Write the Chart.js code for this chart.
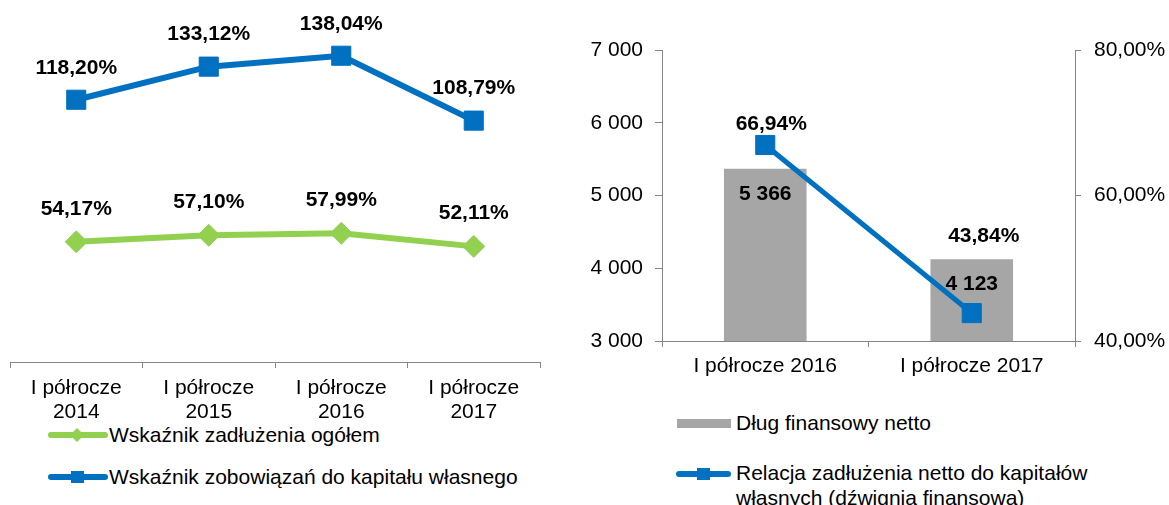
<!DOCTYPE html>
<html>
<head>
<meta charset="utf-8">
<script src="https://cdn.jsdelivr.net/npm/chart.js@4.4.0/dist/chart.umd.min.js"></script>
<style>
  html, body { margin:0; padding:0; background:#fff; width:1169px; height:505px; overflow:hidden;
    font-family:"Liberation Sans", Arial, sans-serif; }
  #w1 { position:absolute; left:0; top:0; width:560px; height:422px; }
  #w2 { position:absolute; left:570px; top:0; width:599px; height:381px; }
  .leg { position:absolute; font-size:21px; line-height:25px; color:#000; }
  .sw { position:absolute; }
  .line { position:absolute; left:0; right:0; height:6px; border-radius:3px; }
  .mk { position:absolute; }
</style>
</head>
<body>
<div id="w1"><canvas id="c1" width="560" height="422"></canvas></div>
<div id="w2"><canvas id="c2" width="599" height="381"></canvas></div>
<div id="legends"></div>
<script>
// ---------- DATA ----------
const periodsLeft = ['I półrocze 2014', 'I półrocze 2015', 'I półrocze 2016', 'I półrocze 2017'];
const debtRatio = [54.17, 57.10, 57.99, 52.11];               // Wskaźnik zadłużenia ogółem (%)
const liabilitiesToEquity = [118.20, 133.12, 138.04, 108.79]; // Wskaźnik zobowiązań do kapitału własnego (%)

const periodsRight = ['I półrocze 2016', 'I półrocze 2017'];
const netDebt = [5366, 4123];        // Dług finansowy netto
const leverage = [66.94, 43.84];     // Relacja zadłużenia netto do kapitałów własnych (%)

const leftAxisTicks = [3000, 4000, 5000, 6000, 7000];
const rightAxisTicks = [40, 60, 80];

// ---------- STYLE ----------
const FONT = '"Liberation Sans", Arial, sans-serif';
const FS = 21;
const BLUE = '#0070C0';
const GREEN = '#92D050';
const GRAY = '#A6A6A6';
const AXIS = '#868686';

const pct = v => v.toFixed(2).replace('.', ',') + '%';
const thousands = v => String(Math.round(v)).replace(/\B(?=(\d{3})+(?!\d))/g, ' ');
function splitLabel(s) { const i = s.lastIndexOf(' '); return [s.slice(0, i), s.slice(i + 1)]; }

const valueLabels = {
  id: 'valueLabels',
  afterDatasetsDraw(chart) {
    const ctx = chart.ctx;
    chart.data.datasets.forEach((ds, di) => {
      const cfg = ds.valueLabel;
      if (!cfg) return;
      const meta = chart.getDatasetMeta(di);
      meta.data.forEach((el, i) => {
        const dy = Array.isArray(cfg.dy) ? cfg.dy[i] : cfg.dy;
        const dx = Array.isArray(cfg.dx) ? cfg.dx[i] : (cfg.dx || 0);
        ctx.save();
        ctx.font = 'bold ' + FS + 'px ' + FONT;
        ctx.fillStyle = '#000';
        ctx.textAlign = 'center';
        ctx.textBaseline = 'middle';
        ctx.fillText(cfg.fmt(ds.data[i]), el.x + dx, el.y + dy);
        ctx.restore();
      });
    });
  }
};

Chart.defaults.font.family = FONT;
Chart.defaults.color = '#000';

// ---------- LEFT CHART ----------
const chart1 = new Chart(document.getElementById('c1'), {
  type: 'line',
  data: {
    labels: periodsLeft,
    datasets: [
      { label: 'Wskaźnik zadłużenia ogółem', data: debtRatio,
        borderColor: GREEN, backgroundColor: GREEN, borderWidth: 6,
        pointStyle: 'rectRot', pointRadius: 11, pointBorderWidth: 1, tension: 0,
        valueLabel: { dy: -33, fmt: pct } },
      { label: 'Wskaźnik zobowiązań do kapitału własnego', data: liabilitiesToEquity,
        borderColor: BLUE, backgroundColor: BLUE, borderWidth: 6,
        pointStyle: 'rect', pointRadius: 13.5, pointBorderWidth: 1, tension: 0,
        valueLabel: { dy: -32, fmt: pct } }
    ]
  },
  options: {
    responsive: false, animation: false, devicePixelRatio: 1,
    layout: { autoPadding: false, padding: { left: 10, right: 20, top: 7, bottom: 0 } },
    plugins: { legend: { display: false }, tooltip: { enabled: false } },
    scales: {
      x: {
        offset: true,
        grid: { offset: true, drawOnChartArea: false, drawTicks: true, tickLength: 6, color: AXIS, lineWidth: 1 },
        border: { display: true, color: AXIS, width: 1 },
        ticks: { autoSkip: false, maxRotation: 0, padding: 8, color: '#000',
          font: { size: FS, family: FONT, lineHeight: 1.143 },
          callback(v) { return splitLabel(this.getLabelForValue(v)); } },
        afterFit(s) { s.height = 60; }
      },
      y: { display: false, min: 0, max: 160 }
    }
  },
  plugins: [valueLabels]
});

// ---------- RIGHT CHART ----------
const chart2 = new Chart(document.getElementById('c2'), {
  type: 'bar',
  data: {
    labels: periodsRight,
    datasets: [
      { type: 'bar', label: 'Dług finansowy netto', data: netDebt, yAxisID: 'y',
        backgroundColor: GRAY, barPercentage: 0.4, categoryPercentage: 1, order: 1,
        valueLabel: { dy: 25, fmt: thousands } },
      { type: 'line', label: 'Relacja zadłużenia netto do kapitałów własnych (dźwignia finansowa)',
        data: leverage, yAxisID: 'y1',
        borderColor: BLUE, backgroundColor: BLUE, borderWidth: 5,
        pointStyle: 'rect', pointRadius: 13.5, pointBorderWidth: 1, tension: 0, order: 0,
        valueLabel: { dy: [-21, -77], dx: [6, 12], fmt: pct } }
    ]
  },
  options: {
    responsive: false, animation: false, devicePixelRatio: 1,
    layout: { autoPadding: false, padding: { left: 0, right: 0, top: 50, bottom: 0 } },
    plugins: { legend: { display: false }, tooltip: { enabled: false } },
    scales: {
      x: {
        grid: { offset: true, drawOnChartArea: false, tickLength: 6, color: AXIS },
        border: { display: true, color: AXIS },
        ticks: { padding: 7, color: '#000', font: { size: FS, family: FONT } },
        afterFit(s) { s.height = 40; }
      },
      y: {
        position: 'left', min: leftAxisTicks[0], max: leftAxisTicks[leftAxisTicks.length - 1],
        afterBuildTicks(s) { s.ticks = leftAxisTicks.map(v => ({ value: v })); },
        grid: { drawOnChartArea: false, tickLength: 7, color: AXIS },
        border: { display: true, color: AXIS },
        ticks: { padding: 12, color: '#000', font: { size: FS, family: FONT }, callback: v => thousands(v) },
        afterFit(s) { s.width = 92; }
      },
      y1: {
        position: 'right', min: rightAxisTicks[0], max: rightAxisTicks[rightAxisTicks.length - 1],
        afterBuildTicks(s) { s.ticks = rightAxisTicks.map(v => ({ value: v })); },
        grid: { drawOnChartArea: false, tickLength: 6, color: AXIS },
        border: { display: true, color: AXIS },
        ticks: { padding: 13, color: '#000', font: { size: FS, family: FONT }, callback: v => pct(v) },
        afterFit(s) { s.width = 94; }
      }
    }
  },
  plugins: [valueLabels]
});

// ---------- HTML LEGENDS (text from dataset labels) ----------
const L = document.getElementById('legends');
function addLegend(text, swatchHtml, sw, tx) {
  const s = document.createElement('div');
  s.className = 'sw';
  Object.assign(s.style, { left: sw.x + 'px', top: sw.y + 'px', width: sw.w + 'px', height: sw.h + 'px' });
  s.innerHTML = swatchHtml;
  L.appendChild(s);
  const t = document.createElement('div');
  t.className = 'leg';
  Object.assign(t.style, { left: tx.x + 'px', top: tx.y + 'px', width: (tx.w || 600) + 'px' });
  t.textContent = text;
  L.appendChild(t);
}
const d1 = chart1.data.datasets, d2 = chart2.data.datasets;
addLegend(d1[0].label,
  `<div class="line" style="top:7px;background:${GREEN}"></div><div class="mk" style="left:24px;top:5px;width:10px;height:10px;background:${GREEN};transform:rotate(45deg)"></div>`,
  { x: 48, y: 425, w: 60, h: 20 }, { x: 109, y: 422 });
addLegend(d1[1].label,
  `<div class="line" style="top:7px;background:${BLUE}"></div><div class="mk" style="left:23px;top:4px;width:13px;height:12px;background:${BLUE}"></div>`,
  { x: 48, y: 467, w: 60, h: 20 }, { x: 109, y: 464 });
addLegend(d2[0].label,
  `<div style="position:absolute;left:0;top:0;width:54px;height:9px;background:${GRAY}"></div>`,
  { x: 677, y: 419, w: 54, h: 9 }, { x: 736, y: 410 });
addLegend(d2[1].label,
  `<div class="line" style="top:7px;background:${BLUE}"></div><div class="mk" style="left:21px;top:4px;width:13px;height:12px;background:${BLUE}"></div>`,
  { x: 676, y: 464, w: 55, h: 20 }, { x: 736, y: 460, w: 400 });
</script>
</body>
</html>
